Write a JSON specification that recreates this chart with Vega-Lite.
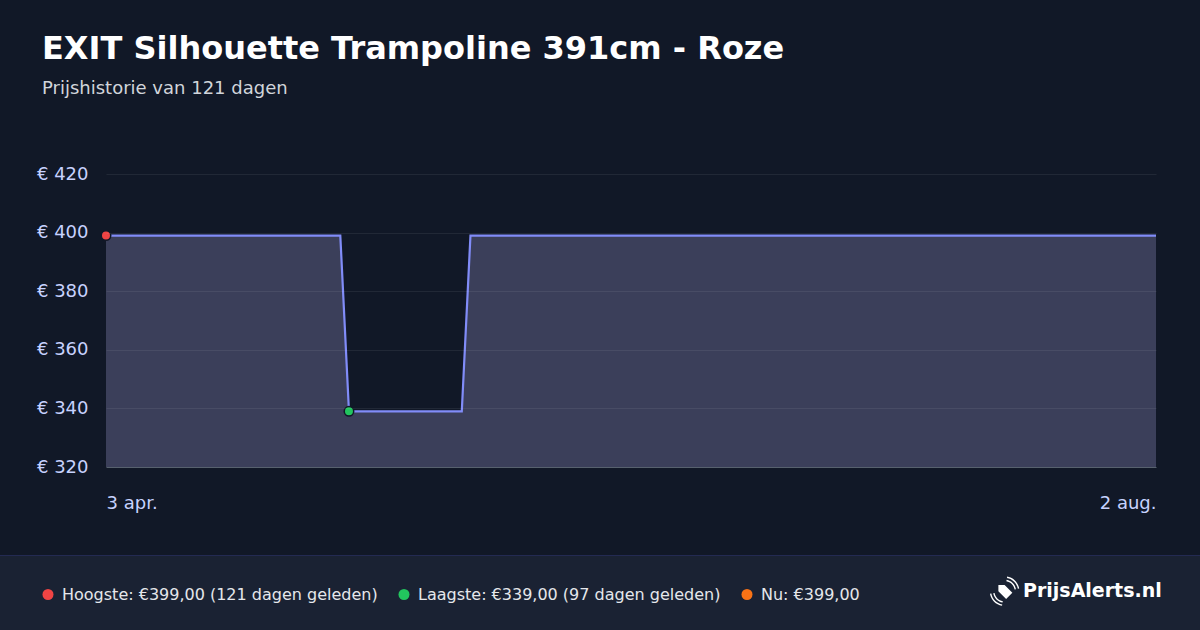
{
  "$schema": "https://vega.github.io/schema/vega-lite/v6.json",
  "width": 1050,
  "height": 293,
  "autosize": "none",
  "padding": {"left": 106, "top": 174, "right": 44, "bottom": 163},
  "background": "#111827",
  "title": {
    "text": "EXIT Silhouette Trampoline 391cm - Roze",
    "subtitle": "Prijshistorie van 121 dagen",
    "anchor": "start",
    "frame": "group",
    "dx": -64,
    "offset": 66,
    "font": "DejaVu Sans",
    "fontSize": 32,
    "fontWeight": "bold",
    "color": "#ffffff",
    "subtitleFont": "DejaVu Sans",
    "subtitleFontSize": 18,
    "subtitleColor": "#d1d5db",
    "subtitlePadding": 14
  },
  "config": {"view": {"stroke": null}, "font": "DejaVu Sans"},
  "datasets": {
    "prices": [
      {"date": "2025-04-03", "price": 399},
      {"date": "2025-04-30", "price": 399},
      {"date": "2025-05-01", "price": 339},
      {"date": "2025-05-14", "price": 339},
      {"date": "2025-05-15", "price": 399},
      {"date": "2025-08-02", "price": 399}
    ],
    "markers": [
      {"date": "2025-04-03", "price": 399, "label": "Hoogste: €399,00 (121 dagen geleden)"},
      {"date": "2025-05-01", "price": 339, "label": "Laagste: €339,00 (97 dagen geleden)"}
    ]
  },
  "encoding": {
    "x": {
      "field": "date",
      "type": "temporal",
      "scale": {
        "type": "utc",
        "domain": [
          {"year": 2025, "month": 4, "date": 3, "utc": true},
          {"year": 2025, "month": 8, "date": 2, "utc": true}
        ]
      },
      "axis": {
        "title": null,
        "values": [
          {"year": 2025, "month": 4, "date": 3, "utc": true},
          {"year": 2025, "month": 8, "date": 2, "utc": true}
        ],
        "labelExpr": "utcdate(datum.value) + ' ' + ['jan.','feb.','mrt.','apr.','mei','jun.','jul.','aug.','sep.','okt.','nov.','dec.'][utcmonth(datum.value)]",
        "labelFlush": true,
        "labelFont": "DejaVu Sans",
        "labelFontSize": 18,
        "labelColor": "#c7d2fe",
        "labelPadding": 27,
        "ticks": false,
        "grid": false,
        "domain": true,
        "domainColor": "#4b5563",
        "domainWidth": 1
      }
    },
    "y": {
      "field": "price",
      "type": "quantitative",
      "scale": {"domain": [320, 420], "zero": false, "nice": false},
      "axis": {
        "title": null,
        "values": [320, 340, 360, 380, 400, 420],
        "labelExpr": "'€ ' + datum.value",
        "labelFont": "DejaVu Sans",
        "labelFontSize": 18,
        "labelColor": "#c7d2fe",
        "labelPadding": 18,
        "ticks": false,
        "domain": false,
        "grid": true,
        "gridColor": "#ffffff",
        "gridOpacity": 0.07,
        "zindex": 1
      }
    }
  },
  "layer": [
    {
      "data": {"name": "prices"},
      "mark": {"type": "area", "color": "#3b3f5a", "opacity": 1},
      "encoding": {"y2": {"datum": 320}}
    },
    {
      "data": {"name": "prices"},
      "mark": {"type": "line", "color": "#818cf8", "strokeWidth": 2.2}
    },
    {
      "data": {"name": "markers"},
      "mark": {"type": "point", "filled": true, "size": 90, "opacity": 1, "stroke": "#111827", "strokeWidth": 1.5},
      "encoding": {
        "color": {
          "field": "label",
          "type": "nominal",
          "scale": {
            "domain": ["Hoogste: €399,00 (121 dagen geleden)", "Laagste: €339,00 (97 dagen geleden)", "Nu: €399,00", "PrijsAlerts.nl"],
            "range": ["#ef4444", "#22c55e", "#f97316", "#ffffff"]
          },
          "legend": {
            "title": "\u00a0",
            "titleOrient": "left",
            "titleFontSize": 2,
            "titlePadding": 13,
            "orient": "none",
            "legendX": -107,
            "legendY": 381,
            "direction": "horizontal",
            "padding": 28,
            "fillColor": "#1a2233",
            "strokeColor": "#232a52",
            "symbolSize": 121,
            "symbolStrokeWidth": 0,
            "labelOffset": 6,
            "columnPadding": 18,
            "labelLimit": 600,
            "labelFont": "DejaVu Sans",
            "labelExpr": "datum.label == 'Nu: €399,00' ? datum.label + '\u00a0\u2800\u2800\u2800\u2800\u2800\u2800\u2800\u2800\u2800' : datum.label == 'PrijsAlerts.nl' ? datum.label + '\u2800\u2800' : datum.label",
            "labelFontSize": {"expr": "datum.label == 'PrijsAlerts.nl' ? 19 : 16"},
            "labelFontWeight": {"expr": "datum.label == 'PrijsAlerts.nl' ? 'bold' : 'normal'"},
            "labelColor": {"expr": "datum.label == 'PrijsAlerts.nl' ? '#ffffff' : '#e5e7eb'"}
          }
        },
        "shape": {
          "field": "label",
          "type": "nominal",
          "scale": {
            "domain": ["Hoogste: €399,00 (121 dagen geleden)", "Laagste: €339,00 (97 dagen geleden)", "Nu: €399,00", "PrijsAlerts.nl"],
            "range": ["circle", "circle", "circle", "M-1.93,-1.13 L-0.8,-1.13 L0.61,0.28 L-0.52,1.41 L-1.93,0 Z M-0.435,-2.068 A2.1,2.1 0 0 1 1.268,-0.365 L1.022,-0.321 A1.85,1.85 0 0 0 -0.479,-1.822 Z M-0.331,-2.659 A2.7,2.7 0 0 1 1.859,-0.469 L1.613,-0.425 A2.45,2.45 0 0 0 -0.375,-2.413 Z M-1.165,2.068 A2.1,2.1 0 0 1 -2.868,0.365 L-2.622,0.321 A1.85,1.85 0 0 0 -1.121,1.822 Z M-1.269,2.659 A2.7,2.7 0 0 1 -3.459,0.469 L-3.213,0.425 A2.45,2.45 0 0 0 -1.225,2.413 Z"]
          }
        }
      }
    }
  ]
}
